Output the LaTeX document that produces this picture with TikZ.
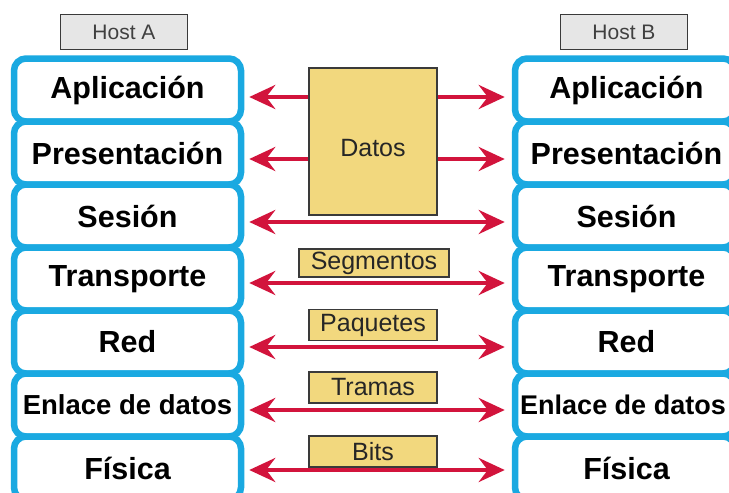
\documentclass[tikz,border=0pt]{standalone}
\usepackage{fontspec}
\setmainfont{Liberation Sans}
\usetikzlibrary{arrows.meta}
\definecolor{layercyan}{HTML}{1AA9E1}
\definecolor{arrred}{HTML}{D2143C}
\definecolor{pduyellow}{HTML}{F2D87E}
\definecolor{hostgray}{HTML}{E6E6E6}
\definecolor{edgegray}{HTML}{3A3A3A}
\tikzset{
  layer/.style={draw=layercyan, fill=white, line width=6.5pt, rounded corners=12pt,
    minimum width=227pt, minimum height=63pt, inner sep=0pt,
    font=\fontsize{30.5}{32}\selectfont\bfseries, text=black},
  hostbox/.style={draw=edgegray, fill=hostgray, line width=1.2pt,
    minimum width=127pt, minimum height=35pt, inner sep=0pt,
    font=\fontsize{21}{22}\selectfont, text=black!75},
  pdu/.style={draw=edgegray, fill=pduyellow, line width=1.2pt,
    minimum width=128pt, minimum height=31pt, inner sep=0pt,
    font=\fontsize{25}{26}\selectfont, text=black!85},
  arr/.style={draw=arrred, line width=4.5pt,
    -{Stealth[length=26pt, width=24pt, inset=9pt]}},
  darr/.style={draw=arrred, line width=4.5pt,
    {Stealth[length=26pt, width=24pt, inset=9pt]}-{Stealth[length=26pt, width=24pt, inset=9pt]}},
}
\begin{document}
\begin{tikzpicture}[x=1pt, y=-1pt]
\useasboundingbox (0,0) rectangle (729,493);
\clip (0,0) rectangle (729,493);
% hosts
\node[hostbox] (hostA) at (124,32) {Host A};
\node[hostbox] (hostB) at (624,32) {Host B};
% left stack
\node[layer] (a1) at (127.5,90) {Aplicación};
\node[layer] (a2) at (127.5,153) {Presentación};
\node[layer] (a3) at (127.5,216) {Sesión};
\node[layer] (a4) at (127.5,279) {Transporte};
\node[layer] (a5) at (127.5,342) {Red};
\node[layer, font=\fontsize{27.5}{30}\selectfont\bfseries] (a6) at (127.5,405) {Enlace de datos};
\node[layer] (a7) at (127.5,468) {Física};
% right stack
\node[layer, minimum width=220pt] (b1) at (625,90) {\hspace*{3pt}Aplicación};
\node[layer, minimum width=220pt] (b2) at (625,153) {\hspace*{3pt}Presentación};
\node[layer, minimum width=220pt] (b3) at (625,216) {\hspace*{3pt}Sesión};
\node[layer, minimum width=220pt] (b4) at (625,279) {\hspace*{3pt}Transporte};
\node[layer, minimum width=220pt] (b5) at (625,342) {\hspace*{3pt}Red};
\node[layer, minimum width=220pt, font=\fontsize{27}{30}\selectfont\bfseries] (b6) at (625,405) {\hspace*{-4pt}Enlace de datos};
\node[layer, minimum width=220pt] (b7) at (625,468) {\hspace*{3pt}Física};
% data box
\node[pdu, minimum width=128pt, minimum height=147pt] (datos) at (373,141.5) {\raisebox{-15pt}[0pt][0pt]{Datos}};
% pdu labels
\node[pdu, minimum width=150pt, minimum height=28pt] (seg) at (374,263) {Segmentos};
\node[pdu] (paq) at (373,325) {Paquetes};
\node[pdu] (tra) at (373,387.5) {Tramas};
\node[pdu] (bit) at (373,451.5) {Bits};
% arrow end coordinates
\foreach \i/\dy in {1/7,2/6,3/6,4/4,5/5,6/5,7/2}{
  \path (a\i.east) ++(5,\dy) coordinate (la\i);
  \path (b\i.west) ++(-7,\dy) coordinate (ra\i);
}
% arrows
\draw[arr] (datos.west |- la1) -- (la1);
\draw[arr] (datos.east |- ra1) -- (ra1);
\draw[arr] (datos.west |- la2) -- (la2);
\draw[arr] (datos.east |- ra2) -- (ra2);
\draw[darr] (la3) -- (ra3);
\draw[darr] (la4) -- (ra4);
\draw[darr] (la5) -- (ra5);
\draw[darr] (la6) -- (ra6);
\draw[darr] (la7) -- (ra7);
\end{tikzpicture}
\end{document}
